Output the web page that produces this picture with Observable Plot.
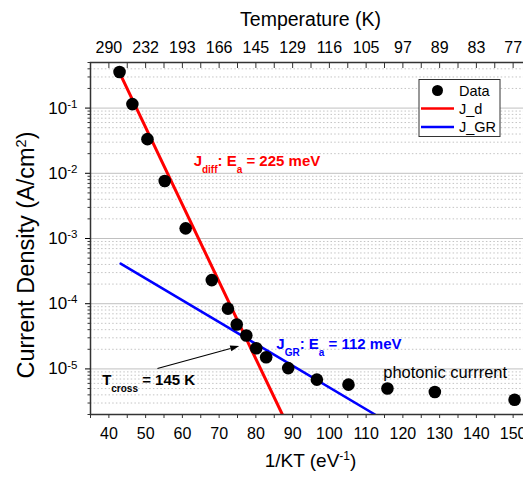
<!DOCTYPE html>
<html><head><meta charset="utf-8">
<script src="https://cdn.jsdelivr.net/npm/d3@7"></script>
<script src="https://cdn.jsdelivr.net/npm/@observablehq/plot@0.6"></script>
<style>
html,body{margin:0;padding:0;background:#fff;overflow:hidden;width:523px;height:477px}
svg{display:block;max-width:none !important}
</style></head><body><div id="chart"></div>
<script>
// ---- data ----
const invKT = [42.9, 46.4, 50.5, 55.2, 60.9, 68.0, 72.4, 74.8, 77.4, 80.1, 82.8, 88.8, 96.6, 105.2, 115.8, 128.7, 150.4];
const current = [0.358, 0.115, 0.0334, 0.0076, 0.00143, 2.3e-4, 8.4e-5, 4.8e-5, 3.25e-5, 2.07e-5, 1.51e-5, 1.03e-5, 6.85e-6, 5.74e-6, 5.0e-6, 4.43e-6, 3.37e-6];
const jdX = [42.9, 87.2];
const jdY = [0.35, 2.0e-6];
const jgrX = [43.2, 112.4];
const jgrY = [4.12e-4, 2.0e-6];
const xMajor = [40, 50, 60, 70, 80, 90, 100, 110, 120, 130, 140, 150];
const xMinor = [35, 45, 55, 65, 75, 85, 95, 105, 115, 125, 135, 145, 155];
const tempLabels = ["290", "232", "193", "166", "145", "129", "116", "105", "97", "89", "83", "77"];
const yMajor = [1e-5, 1e-4, 1e-3, 1e-2, 1e-1];
const yMinorMult = [2, 3, 4, 5, 6, 7, 8, 9];
const yDecades = [1e-6, 1e-5, 1e-4, 1e-3, 1e-2, 1e-1];
const legendItems = ["Data", "J_d", "J_GR"];

const yDomain = [2e-6, 0.5];
const yMinor = yDecades.flatMap(d => yMinorMult.map(m => d * m)).filter(v => v >= yDomain[0] && v <= yDomain[1]);
const points = invKT.map((x, i) => ({x, y: current[i]}));
const jd = jdX.map((x, i) => ({x, y: jdY[i]}));
const jgr = jgrX.map((x, i) => ({x, y: jgrY[i]}));

const FONT = "Liberation Sans, Arial, Helvetica, sans-serif";
const blank = () => "";

const chart = Plot.plot({
  width: 531, height: 477,
  marginLeft: 90, marginRight: 0, marginTop: 62, marginBottom: 63,
  style: {fontFamily: FONT, background: "#fff", color: "#000", maxWidth: "none"},
  x: {domain: [35, 155]},
  y: {type: "log", domain: yDomain},
  marks: [
    Plot.ruleY(yMinor, {stroke: "#c4c4c4", strokeDasharray: "1.5,2.2"}),
    Plot.ruleY(yMajor, {stroke: "#c0c0c0", strokeWidth: 1}),
    Plot.line(jd, {x: "x", y: "y", stroke: "#ff0000", strokeWidth: 3, clip: true}),
    Plot.line(jgr, {x: "x", y: "y", stroke: "#0000ff", strokeWidth: 2.5, clip: true}),
    Plot.dot(points, {x: "x", y: "y", r: 6.3, fill: "#000", stroke: "none"}),
    Plot.frame({stroke: "#333", strokeWidth: 1.5}),
    // bottom axis
    Plot.axisX({anchor: "bottom", ticks: xMinor.concat(xMajor), tickSize: 4, tickFormat: blank, label: null, stroke: "#333"}),
    Plot.axisX({anchor: "bottom", ticks: xMajor, tickSize: 0, tickPadding: 13, fontSize: 16, label: null}),
    // top axis (temperature)
    Plot.axisX({anchor: "top", ticks: xMinor.concat(xMajor), tickSize: -5, tickFormat: blank, label: null, stroke: "#333"}),
    Plot.axisX({anchor: "top", ticks: xMajor, tickSize: 0, tickPadding: 10, fontSize: 16, label: null,
      tickFormat: d => tempLabels[xMajor.indexOf(d)]}),
    // left axis
    Plot.axisY({anchor: "left", ticks: yMinor, tickSize: 2.5, tickFormat: blank, label: null, stroke: "#333"}),
    Plot.axisY({anchor: "left", ticks: yMajor, tickSize: 5, tickPadding: 8, fontSize: 17, label: null,
      tickFormat: d => "10^" + Math.round(Math.log10(d))})
  ]
});

document.getElementById("chart").appendChild(chart);

const svg = d3.select(chart);
const sx = chart.scale("x"), sy = chart.scale("y");
const X = v => sx.apply(v), Y = v => sy.apply(v);

// superscript y tick labels
svg.selectAll('g[aria-label="y-axis tick label"] text').each(function () {
  const t = this.textContent;
  if (!t.includes("^")) return;
  const [base, exp] = t.split("^");
  const el = d3.select(this);
  el.text(null);
  el.append("tspan").text(base);
  el.append("tspan").attr("dy", "-0.5em").attr("font-size", "11.5px").text(exp);
});

function rich(x, y, parts, {size = 15, weight = "normal", fill = "#000", anchor = "start", subSize = 10, shift = 6} = {}) {
  const t = svg.append("text").attr("x", x).attr("y", y)
    .attr("font-family", FONT).attr("font-size", size).attr("font-weight", weight)
    .attr("fill", fill).attr("text-anchor", anchor);
  let cur = 0;
  for (const [txt, kind] of parts) {
    const target = kind === "sub" ? shift : kind === "sup" ? -shift : 0;
    const ts = t.append("tspan").text(txt).attr("dy", target - cur);
    if (kind) ts.attr("font-size", subSize);
    cur = target;
  }
  return t;
}

// axis titles
const cx = (X(35) + X(155)) / 2;
rich(cx, 26, [["Temperature (K)"]], {size: 19.5, anchor: "middle"});
rich(cx, 467, [["1/KT (eV"], ["-1", "sup"], [")"]], {size: 19, anchor: "middle", subSize: 12, shift: 7});
rich(0, 0, [["Current Density (A/cm"], ["2", "sup"], [")"]], {size: 23.5, anchor: "middle", subSize: 14.5, shift: 8.5})
  .attr("transform", `translate(34,255) rotate(-90)`);

// annotations
rich(X(63.2), Y(0.0129), [["J"], ["diff", "sub"], [": E"], ["a", "sub"], [" = 225 meV"]], {size: 15, weight: "bold", fill: "#ff0000", subSize: 10, shift: 7});
rich(X(85.7), Y(1.98e-5), [["J"], ["GR", "sub"], [": E"], ["a", "sub"], [" = 112 meV"]], {size: 15, weight: "bold", fill: "#0000ff", subSize: 10, shift: 7});
rich(X(38.3), Y(5.53e-6), [["T"], ["cross", "sub"], [" = 145 K"]], {size: 15, weight: "bold", fill: "#000", subSize: 10, shift: 7});
rich(X(114.8), Y(7.02e-6), [["photonic currrent"]], {size: 16.5, fill: "#000"});

// arrow
{
  const x1 = X(53.35), y1 = Y(1.0e-5), x2 = X(75.6), y2 = Y(2.2e-5);
  const ang = Math.atan2(y2 - y1, x2 - x1), L = 9, w = 3;
  const bx = x2 - L * Math.cos(ang), by = y2 - L * Math.sin(ang);
  svg.append("line").attr("x1", x1).attr("y1", y1).attr("x2", bx).attr("y2", by).attr("stroke", "#000").attr("stroke-width", 1.1);
  const px = -Math.sin(ang) * w, py = Math.cos(ang) * w;
  svg.append("path").attr("d", `M${x2},${y2}L${bx + px},${by + py}L${bx - px},${by - py}Z`).attr("fill", "#000");
}

// legend
{
  const g = svg.append("g").attr("font-family", FONT).attr("font-size", 14.5).attr("text-anchor", "start");
  g.append("rect").attr("x", 419).attr("y", 79.5).attr("width", 81).attr("height", 57).attr("fill", "#fff").attr("stroke", "#333").attr("stroke-width", 1);
  const rows = [90.5, 108.5, 127];
  g.append("circle").attr("cx", 437.5).attr("cy", rows[0]).attr("r", 5.5).attr("fill", "#000");
  g.append("line").attr("x1", 421).attr("x2", 454).attr("y1", rows[1]).attr("y2", rows[1]).attr("stroke", "#ff0000").attr("stroke-width", 2.5);
  g.append("line").attr("x1", 421).attr("x2", 454).attr("y1", rows[2]).attr("y2", rows[2]).attr("stroke", "#0000ff").attr("stroke-width", 2.5);
  legendItems.forEach((t, i) => g.append("text").attr("x", 459).attr("y", rows[i]).attr("dy", "0.35em").attr("text-anchor", "start").text(t));
}
</script></body></html>
